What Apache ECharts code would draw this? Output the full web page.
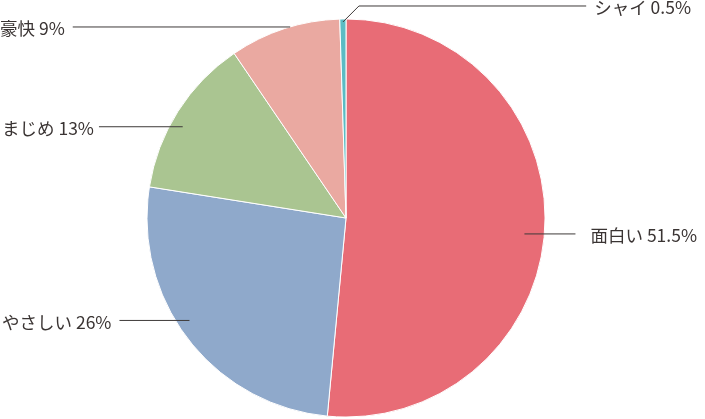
<!DOCTYPE html>
<html><head><meta charset="utf-8">
<script src="https://cdn.jsdelivr.net/npm/echarts@6/dist/echarts.min.js"></script>
<style>html,body{margin:0;padding:0;background:#fff}#c{width:705px;height:419px}</style>
</head><body><div id="c"></div>
<script>
const categories = ['面白い', 'やさしい', 'まじめ', '豪快', 'シャイ'];
const values = [51.5, 26, 13, 9, 0.5];
const colors = ['#e86c76', '#8fa9cb', '#aac591', '#eaa9a1', '#5bbcc4'];
// leader-line anchor styling: radius fraction, angle offset from slice middle (deg), edge padding, gap to text
const anchorStyle = [
  {rf: 0.90, da: 2.4, pad: 8, gap: 15},
  {rf: 0.94, da: 4.6, pad: 2, gap: 8},
  {rf: 0.94, da: -3.2, pad: 2, gap: 5},
  {rf: 1.0, da: 1.7, pad: 0, gap: 8},
  {rf: 0.985, da: 0, pad: 14, gap: 8}
];
const chart = echarts.init(document.getElementById('c'), null, {renderer: 'canvas'});
const W = chart.getWidth(), H = chart.getHeight();
const cxP = 0.4908, cyP = 0.5203, rP = 0.95;
const cx = W * cxP, cy = H * cyP, R = Math.min(W, H) / 2 * rP;
const total = values.reduce((a, b) => a + b, 0);
function anchor(i) {
  let before = 0;
  for (let k = 0; k < i; k++) before += values[k];
  const mid = (before + values[i] / 2) / total * 360 + anchorStyle[i].da;
  const a = mid * Math.PI / 180;
  const r = R * anchorStyle[i].rf;
  return [cx + r * Math.sin(a), cy - r * Math.cos(a)];
}
const lineColor = '#3e3a39';
const common = {
  type: 'pie',
  center: [(cxP * 100) + '%', (cyP * 100) + '%'],
  radius: (rP * 100) + '%',
  startAngle: 90,
  clockwise: true,
  avoidLabelOverlap: false,
  emphasis: {disabled: true},
  silent: true
};
chart.setOption({
  animation: false,
  backgroundColor: '#fff',
  series: [Object.assign({}, common, {
    z: 2,
    itemStyle: {borderColor: '#fff', borderWidth: 1},
    data: categories.map((n, i) => ({name: n, value: values[i], itemStyle: {color: colors[i]}})),
    label: {show: false},
    labelLine: {show: false}
  }), Object.assign({}, common, {
    z: 3,
    itemStyle: {color: 'rgba(0,0,0,0)', borderWidth: 0},
    data: categories.map((n, i) => ({name: n, value: values[i]})),
    label: {
      show: true,
      position: 'outside',
      formatter: p => p.name + ' ' + p.value + '%',
      fontFamily: '"Noto Sans CJK JP", "Noto Sans", sans-serif',
      fontSize: 17.5,
      color: '#3a3433'
    },
    labelLine: {show: true, showAbove: true, smooth: false, lineStyle: {color: lineColor, width: 1}},
    labelLayout: function (p) {
      const i = p.dataIndex;
      const s = anchorStyle[i];
      const [ax, ay] = anchor(i);
      const w = p.labelRect.width;
      const right = ax > cx;
      if (values[i] / total < 0.02) {
        const ly = ay - 16, ex = ax + 16;
        const tx = W - s.pad;
        return {x: tx, y: ly + 1.5, align: 'right', verticalAlign: 'middle',
          labelLinePoints: [[ax, ay], [ex, ly], [tx - w - s.gap, ly]]};
      }
      if (right) {
        const tx = W - s.pad;
        return {x: tx, y: ay + 1.5, align: 'right', verticalAlign: 'middle',
          labelLinePoints: [[ax, ay], [ax, ay], [tx - w - s.gap, ay]]};
      } else {
        const tx = s.pad;
        return {x: tx, y: ay + 1.5, align: 'left', verticalAlign: 'middle',
          labelLinePoints: [[ax, ay], [ax, ay], [tx + w + s.gap, ay]]};
      }
    }
  })]
});
</script>
</body></html>
